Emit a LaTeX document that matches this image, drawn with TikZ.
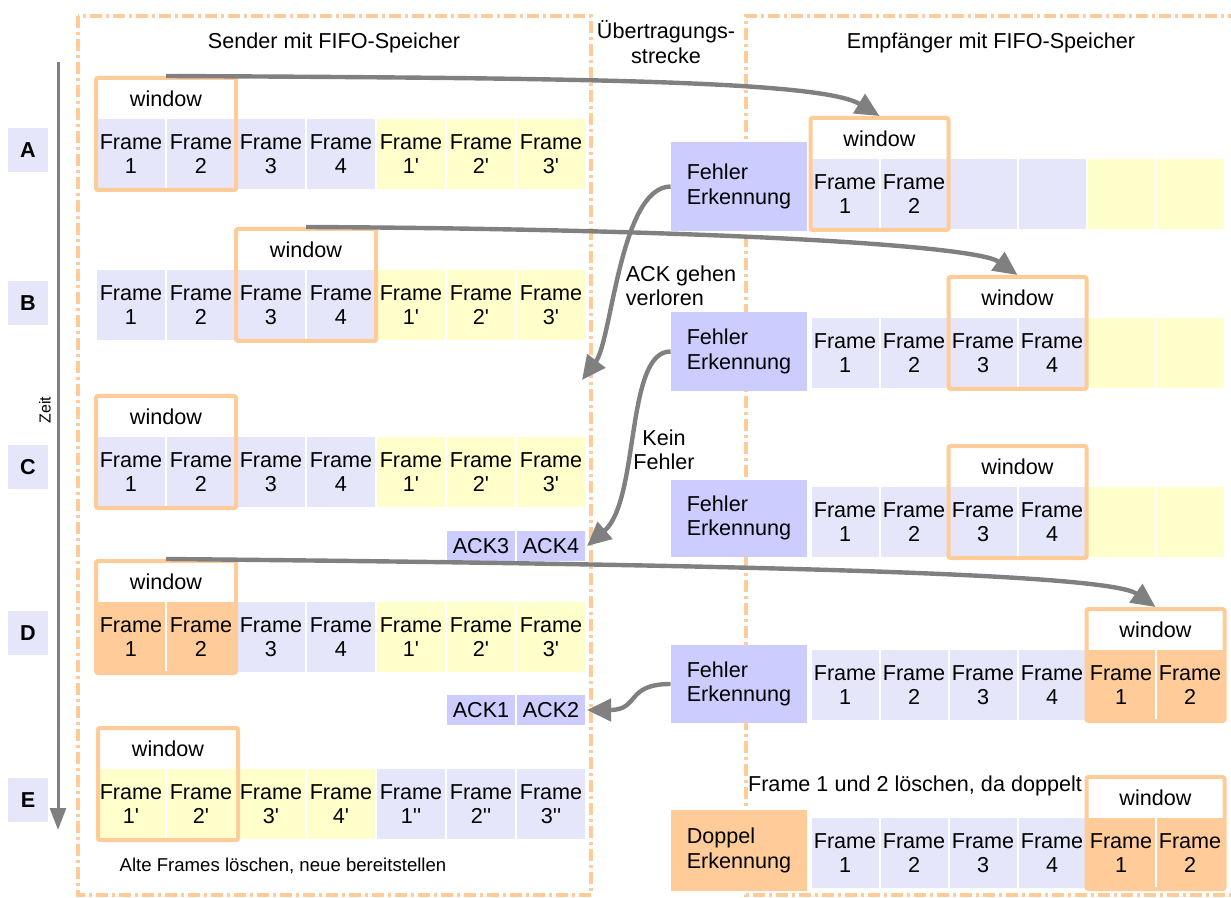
\documentclass[tikz,border=0pt]{standalone}
\usepackage{fontspec}
\setmainfont{Liberation Sans}
\usetikzlibrary{arrows.meta}
\definecolor{lav}{HTML}{E6E6FA}
\definecolor{yel}{HTML}{FFFFCC}
\definecolor{ora}{HTML}{FFCC99}
\definecolor{blu}{HTML}{CCCCFF}
\definecolor{arr}{HTML}{808080}
\newcommand\quo{\textquotesingle}

\begin{document}
\begin{tikzpicture}[x=0.5pt, y=-0.5pt,
	every node/.style={font=\fontsize{10.8}{12.2}\selectfont},
	frm/.style={draw=white, line width=1pt, fill=lav, minimum width=35pt, minimum height=36pt, align=center, inner sep=0pt},
	rfrm/.style={frm, minimum width=34.5pt},
	win/.style={draw=ora, line width=2pt, rounded corners=1pt, minimum width=70pt, minimum height=56pt, inner sep=0pt,
		label={[anchor=north, yshift=-4pt]north:window}},
	rwin/.style={win, minimum width=69pt},
	det/.style={fill=blu, minimum width=68pt, align=left, inner sep=0pt},
	ack/.style={draw=white, line width=1pt, fill=blu, minimum width=35pt, minimum height=16pt, inner sep=0pt},
	rowlbl/.style={fill=lav, minimum width=20pt, minimum height=22pt, font=\fontsize{10.8}{12.2}\selectfont\bfseries},
	zone/.style={draw=ora, line width=2pt, dash pattern=on 6pt off 2pt on 1.5pt off 2pt},
	msg/.style={draw=arr, line width=2.2pt, -{Triangle[length=12pt, width=11pt]}}]
	\useasboundingbox (0,0) rectangle (1231,898);
	% areas
	\draw[zone] (78,16) rectangle (591,895);
	\draw[zone] (1240,16) -- (746,16) -- (746,895) -- (1240,895);
	\node (stitle) at (334,43) {Sender mit FIFO-Speicher};
	\node[align=center] (utitle) at (666,42) {Übertragungs-\\strecke};
	\node (etitle) at (991,43) {Empfänger mit FIFO-Speicher};
	% time axis
	\coordinate (t0) at (58,62);
	\coordinate (t1) at (58,830);
	\draw[draw=arr, line width=1.5pt, -{Triangle[length=11pt, width=8pt]}] (t0) -- (t1);
	\node[rotate=90, font=\fontsize{8}{9}\selectfont] (zeit) at (45,410) {Zeit};
	\node[rowlbl] (lA) at (28,150) {A};
	\node[rowlbl] (lB) at (28,303) {B};
	\node[rowlbl] (lC) at (28,467) {C};
	\node[rowlbl] (lD) at (28,633) {D};
	\node[rowlbl] (lE) at (28,800) {E};
	% sender
	\foreach \r/\y in {A/154,B/305,C/472}
		\foreach \i/\t/\c in {1/1/lav,2/2/lav,3/3/lav,4/4/lav,5/1\quo/yel,6/2\quo/yel,7/3\quo/yel}
			\node[frm, fill=\c] (s\r\i) at ({131+70*(\i-1)},\y) {Frame\\\t};
	\foreach \i/\t/\c in {1/1/ora,2/2/ora,3/3/lav,4/4/lav,5/1\quo/yel,6/2\quo/yel,7/3\quo/yel}
		\node[frm, fill=\c] (sD\i) at ({131+70*(\i-1)},637) {Frame\\\t};
	\foreach \i/\t/\c in {1/1\quo/yel,2/2\quo/yel,3/3\quo/yel,4/4\quo/yel,5/1\quo\quo/lav,6/2\quo\quo/lav,7/3\quo\quo/lav}
		\node[frm, fill=\c] (sE\i) at ({131+70*(\i-1)},804) {Frame\\\t};
	\node[win] (swA) at (166,134) {};
	\node[win] (swB) at (306,285) {};
	\node[win] (swC) at (166,452) {};
	\node[win] (swD) at (166,617) {};
	\node[win] (swE) at (168,784) {};
	\node[ack] (ack3) at (481,546) {ACK3};
	\node[ack] (ack4) at (551,546) {ACK4};
	\node[ack] (ack1) at (481,710) {ACK1};
	\node[ack] (ack2) at (551,710) {ACK2};
	\node[font=\fontsize{9.3}{11}\selectfont] (alt) at (283,866) {Alte Frames löschen, neue bereitstellen};
	% receiver
	\node[det, minimum height=44.5pt] (fA) at (739,186.5) {Fehler\\Erkennung};
	\node[det, minimum height=39.5pt] (fB) at (739,351.5) {Fehler\\Erkennung};
	\node[det, minimum height=38.5pt] (fC) at (739,518) {Fehler\\Erkennung};
	\node[det, minimum height=39pt] (fD) at (739,684) {Fehler\\Erkennung};
	\node[det, fill=ora, minimum height=40.5pt] (dE) at (739,850.5) {Doppel\\Erkennung};
	\foreach \i/\t/\c in {1/{Frame\\1}/lav,2/{Frame\\2}/lav,3/{}/lav,4/{}/lav,5/{}/yel,6/{}/yel}
		\node[rfrm, fill=\c] (rA\i) at ({845+69*(\i-1)},194) {\t};
	\foreach \r/\y in {B/353,C/522}
		\foreach \i/\t/\c in {1/{Frame\\1}/lav,2/{Frame\\2}/lav,3/{Frame\\3}/lav,4/{Frame\\4}/lav,5/{}/yel,6/{}/yel}
			\node[rfrm, fill=\c] (r\r\i) at ({845+69*(\i-1)},\y) {\t};
	\foreach \r/\y in {D/685,E/853}
		\foreach \i/\t/\c in {1/1/lav,2/2/lav,3/3/lav,4/4/lav,5/1/ora,6/2/ora}
			\node[rfrm, fill=\c] (r\r\i) at ({845+69*(\i-1)},\y) {Frame\\\t};
	\node[rwin] (rwA) at (879.5,174) {};
	\node[rwin] (rwB) at (1017.5,333) {};
	\node[rwin] (rwC) at (1017.5,502) {};
	\node[rwin] (rwD) at (1155.5,665) {};
	\node[rwin] (rwE) at (1155.5,833) {};
	\node (dbl) at (915,786) {Frame 1 und 2 löschen, da doppelt};
	% transmission
	\node[align=left] (lost) at (681,286) {ACK gehen\\verloren};
	\node[align=center] (ok) at (664,450) {Kein\\Fehler};
	\coordinate (gone) at (582,380);
	\draw[msg] (swA.north) .. controls (560,78) and (820,80) .. (rwA.north);
	\draw[msg] (swB.north) .. controls (700,229) and (975,245) .. (rwB.north);
	\draw[msg] (swD.north) .. controls (800,565) and (1110,575) .. (rwD.north);
	\draw[msg] (fA.west) .. controls (620,187) and (612,340) .. (gone);
	\draw[msg] (fB.west) .. controls (625,351) and (640,500) .. (ack4.east);
	\draw[msg] (fD.west) .. controls (625,684) and (640,710) .. (ack2.east);
\end{tikzpicture}
\end{document}
